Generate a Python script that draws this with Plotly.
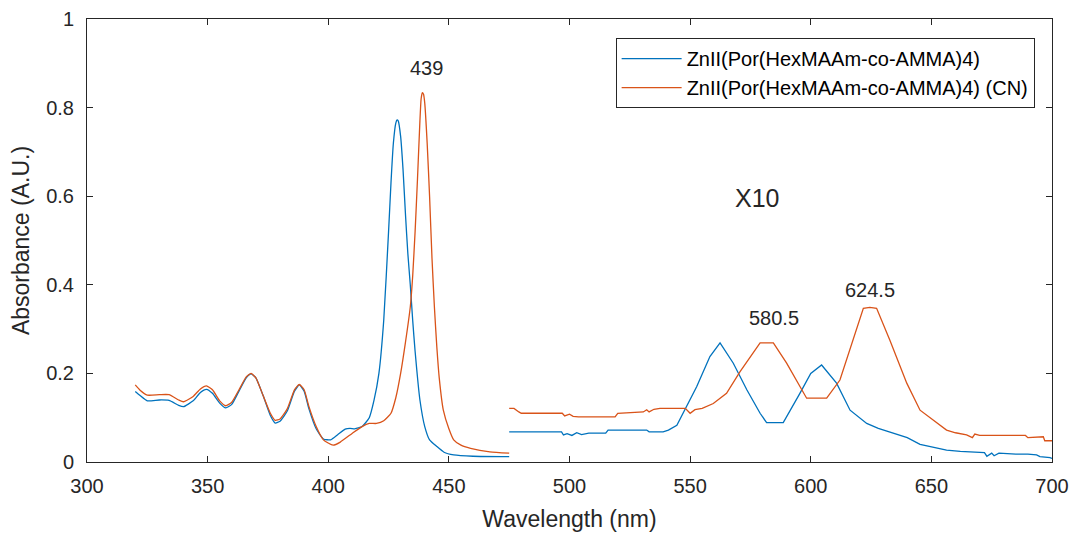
import plotly.graph_objects as go

# Soret region (measured as is)
wl_soret = [320, 322, 325, 330, 334, 338, 340, 344, 347, 349.5, 352, 355, 357.5, 360, 363, 366, 368,
            370, 373, 376, 378, 380, 383, 386, 388, 390, 392, 395, 398, 401, 404, 407, 409, 411, 414,
            417, 419, 421, 423, 425, 426, 427, 428, 428.5, 429, 430, 431, 432, 433, 434, 435, 436,
            438, 440, 442, 445, 448, 452, 460, 475]
abs_soret_zn = [0.159, 0.150, 0.138, 0.140, 0.139, 0.128, 0.125, 0.138, 0.157, 0.164, 0.155, 0.133,
                0.122, 0.130, 0.160, 0.190, 0.199, 0.190, 0.150, 0.105, 0.088, 0.092, 0.115, 0.160,
                0.174, 0.160, 0.120, 0.075, 0.052, 0.050, 0.062, 0.074, 0.076, 0.075, 0.080, 0.100,
                0.140, 0.200, 0.320, 0.520, 0.630, 0.720, 0.765, 0.772, 0.770, 0.735, 0.660, 0.560,
                0.470, 0.400, 0.320, 0.250, 0.140, 0.080, 0.050, 0.035, 0.022, 0.016, 0.013, 0.012]

wl_soret_cn = [320, 322, 325, 330, 334, 338, 340, 344, 347, 349.5, 352, 355, 357.5, 360, 363, 366, 368,
               370, 373, 376, 378, 380, 383, 386, 388, 390, 392, 395, 398, 402, 405, 410, 414, 417,
               420, 423, 426, 428, 430, 432, 434, 435, 436, 437, 438, 438.5, 439, 439.5, 440, 441,
               442, 443, 444, 445, 446, 447.7, 450, 452, 455, 459, 467, 475]
abs_soret_cn = [0.174, 0.162, 0.151, 0.152, 0.152, 0.140, 0.136, 0.148, 0.165, 0.172, 0.163, 0.138,
                0.127, 0.135, 0.163, 0.192, 0.200, 0.190, 0.150, 0.110, 0.094, 0.097, 0.120, 0.163,
                0.175, 0.163, 0.125, 0.080, 0.050, 0.038, 0.045, 0.065, 0.080, 0.087, 0.087, 0.093,
                0.110, 0.145, 0.200, 0.270, 0.350, 0.420, 0.520, 0.640, 0.770, 0.820, 0.834, 0.830,
                0.810, 0.720, 0.600, 0.460, 0.350, 0.260, 0.190, 0.117, 0.075, 0.050, 0.038, 0.031,
                0.023, 0.020]

# Q-band region (scaled x10)
wl_q_zn = [475, 480, 490, 496.7, 497.5, 499, 501, 503, 505, 507, 508, 515, 516, 532, 533, 538.8,
           541, 544.5, 548, 552.7, 558.2, 562.4, 567.9, 573.5, 579, 581.7, 583, 588.6, 595.5, 600,
           604.5, 610.7, 616.3, 623.2, 628, 634.3, 640, 645.3, 650, 656.3, 662, 668.7, 672, 673,
           675, 676, 678, 685, 690, 693.6, 695, 699.2, 700]
abs_q_zn = [0.068, 0.068, 0.068, 0.068, 0.061, 0.064, 0.060, 0.066, 0.062, 0.065, 0.065, 0.065,
            0.072, 0.072, 0.068, 0.068, 0.072, 0.083, 0.121, 0.170, 0.238, 0.269, 0.223, 0.163,
            0.110, 0.089, 0.089, 0.089, 0.155, 0.200, 0.219, 0.178, 0.117, 0.087, 0.076, 0.065,
            0.055, 0.040, 0.034, 0.027, 0.024, 0.021, 0.021, 0.013, 0.020, 0.014, 0.020, 0.018,
            0.018, 0.016, 0.012, 0.010, 0.008]

wl_q_cn = [475, 477, 479, 480, 497, 498, 500, 501.5, 503.7, 518.9, 520, 530.6, 532, 533, 535, 537.5,
           548, 550, 552, 555, 559.6, 565.1, 570.7, 576.2, 579, 584.5, 590, 598.3, 606.6, 612.1,
           617.6, 621.8, 624.5, 627.3, 632.8, 639.8, 645.3, 650.8, 656.3, 660, 664.6, 667, 668,
           670, 680, 689, 690, 696.4, 697, 700]
abs_q_cn = [0.121, 0.121, 0.113, 0.110, 0.110, 0.104, 0.108, 0.103, 0.102, 0.102, 0.110, 0.113,
            0.118, 0.113, 0.119, 0.121, 0.121, 0.110, 0.118, 0.121, 0.132, 0.155, 0.204, 0.249,
            0.269, 0.269, 0.223, 0.144, 0.144, 0.185, 0.275, 0.347, 0.349, 0.347, 0.275, 0.178,
            0.117, 0.095, 0.072, 0.066, 0.061, 0.055, 0.063, 0.060, 0.060, 0.060, 0.055, 0.057,
            0.048, 0.048]

x_ticks = [300, 350, 400, 450, 500, 550, 600, 650, 700]
y_ticks = [0, 0.2, 0.4, 0.6, 0.8, 1]
y_tick_text = ["0", "0.2", "0.4", "0.6", "0.8", "1"]

name_zn = "ZnII(Por(HexMAAm-co-AMMA)4)"
name_cn = "ZnII(Por(HexMAAm-co-AMMA)4) (CN)"
blue = "#0072BD"
orange = "#D95319"
ink = "#262626"
FONT = "Liberation Sans, Arial, sans-serif"

peak_labels = [(440.9, 0.889, "439"), (584.8, 0.325, "580.5"), (624.6, 0.388, "624.5")]

fig = go.Figure()
fig.add_trace(go.Scatter(x=wl_soret, y=abs_soret_zn, mode="lines", name=name_zn,
                         line=dict(color=blue, width=1.3, shape="spline", smoothing=0.5),
                         legendgroup="zn"))
fig.add_trace(go.Scatter(x=wl_soret_cn, y=abs_soret_cn, mode="lines", name=name_cn,
                         line=dict(color=orange, width=1.3, shape="spline", smoothing=0.5),
                         legendgroup="cn"))
fig.add_trace(go.Scatter(x=wl_q_zn, y=abs_q_zn, mode="lines", showlegend=False,
                         line=dict(color=blue, width=1.3), legendgroup="zn"))
fig.add_trace(go.Scatter(x=wl_q_cn, y=abs_q_cn, mode="lines", showlegend=False,
                         line=dict(color=orange, width=1.3), legendgroup="cn"))

for x, y, txt in peak_labels:
    fig.add_annotation(x=x, y=y, text=txt, showarrow=False,
                       font=dict(family=FONT, size=20, color=ink))
fig.add_annotation(x=577.7, y=0.596, text="X10", showarrow=False,
                   font=dict(family=FONT, size=25, color=ink))

axis_common = dict(showline=True, linecolor=ink, linewidth=1, mirror="ticks",
                   ticks="inside", ticklen=6, tickcolor=ink, showgrid=False, zeroline=False,
                   tickfont=dict(family=FONT, size=20, color=ink))

fig.update_xaxes(range=[300, 700], tickvals=x_ticks, ticklabelstandoff=6,
                 title=dict(text="Wavelength (nm)", standoff=14,
                            font=dict(family=FONT, size=23, color=ink)),
                 **axis_common)
fig.update_yaxes(range=[0, 1], tickvals=y_ticks, ticktext=y_tick_text, ticklabelstandoff=8,
                 title=dict(text="Absorbance (A.U.)", standoff=10,
                            font=dict(family=FONT, size=23, color=ink)),
                 **axis_common)

fig.update_layout(
    width=1072, height=533,
    margin=dict(l=87, r=20, t=19, b=71, autoexpand=False),
    paper_bgcolor="white", plot_bgcolor="white",
    legend=dict(x=0.982, y=0.957, xanchor="right", yanchor="top",
                bgcolor="white", bordercolor=ink, borderwidth=1,
                font=dict(family=FONT, size=20, color="#000000"),
                itemwidth=60, tracegroupgap=0),
)

fig.write_html("out.html")
